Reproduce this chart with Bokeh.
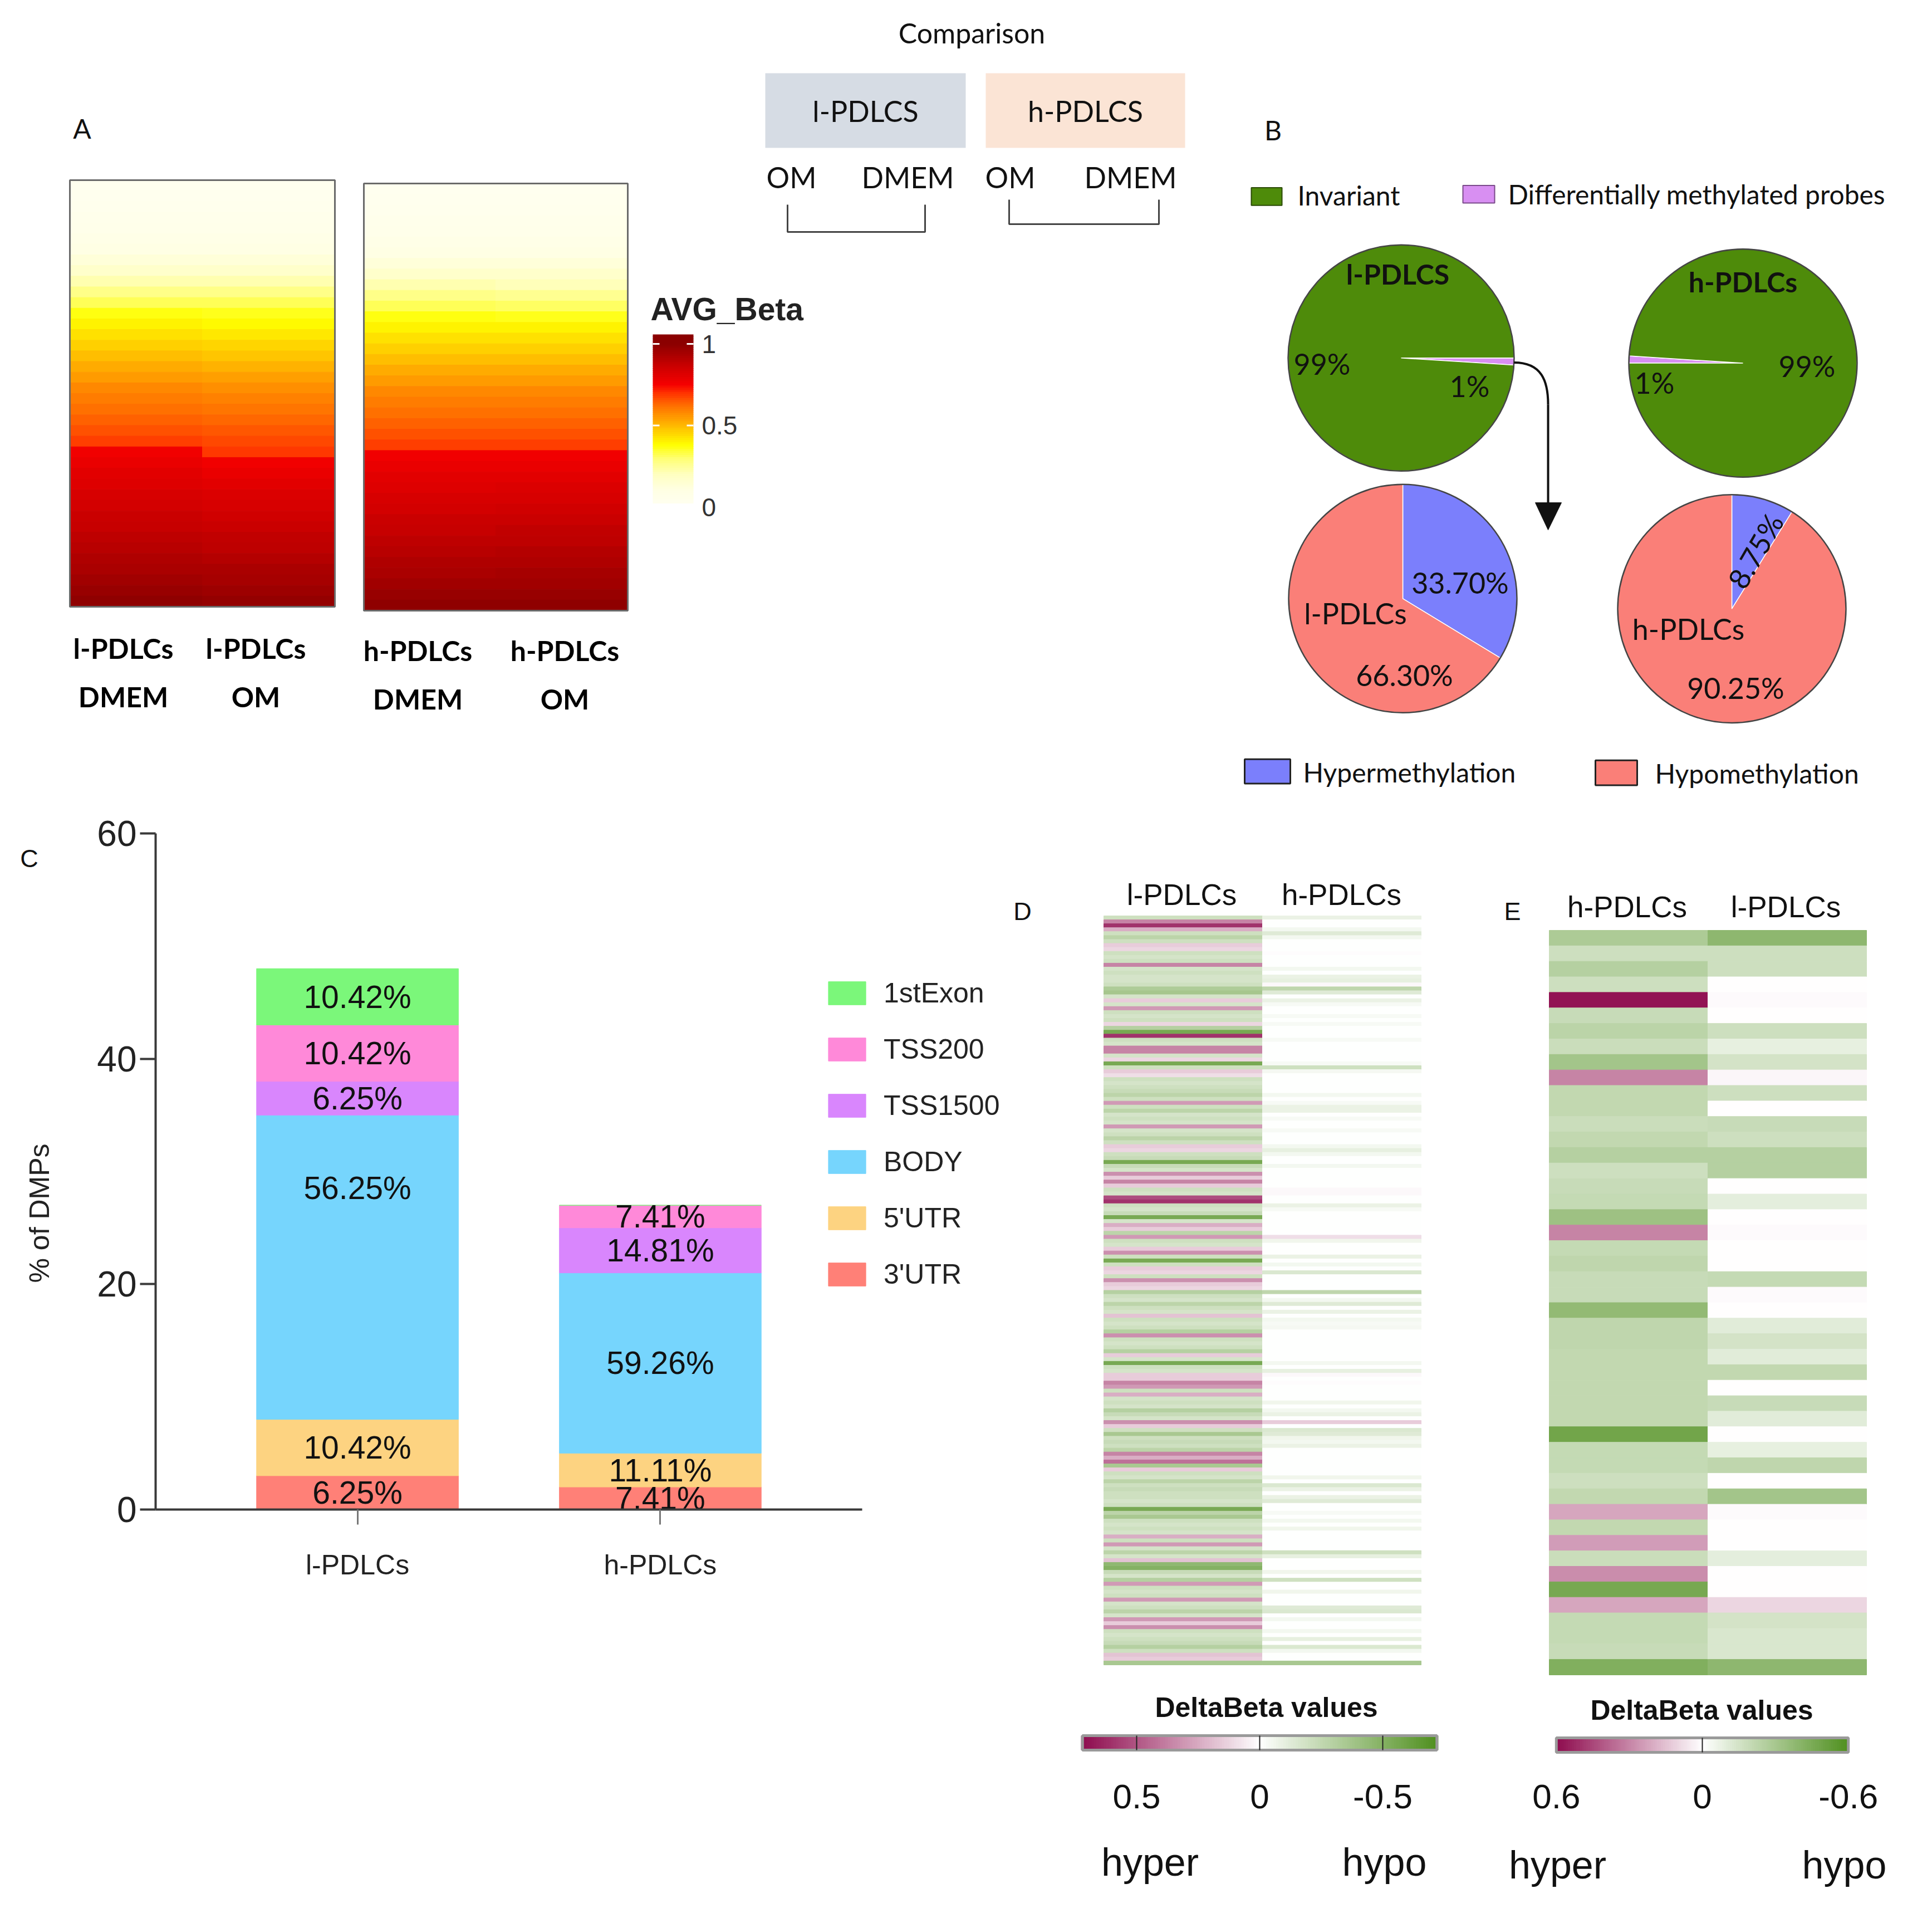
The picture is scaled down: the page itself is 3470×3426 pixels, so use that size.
import numpy as np
from bokeh.plotting import figure
from bokeh.models import Range1d, Label, LinearColorMapper, FixedTicker, Legend, LegendItem, ColumnDataSource
from bokeh.layouts import column, row
from bokeh.embed import file_html
from bokeh.resources import INLINE
from bokeh.core.properties import value

# ------------------------------------------------------------------ data
# Panel A: sorted average beta values per sample (top -> bottom)
A_samples = [("l-PDLCs", "DMEM"), ("l-PDLCs", "OM"), ("h-PDLCs", "DMEM"), ("h-PDLCs", "OM")]
A_l_DMEM = [0.02,0.03,0.04,0.05,0.06,0.08,0.10,0.13,0.17,0.22,0.27,0.32,0.37,0.40,0.43,0.46,0.49,0.52,0.55,0.58,
            0.60,0.62,0.64,0.66,0.68,0.76,0.78,0.80,0.81,0.83,0.84,0.86,0.87,0.89,0.90,0.92,0.93,0.95,0.97,0.99]
A_l_OM = [0.02,0.03,0.04,0.05,0.06,0.08,0.10,0.13,0.17,0.22,0.27,0.32,0.36,0.39,0.42,0.45,0.48,0.51,0.54,0.57,
          0.59,0.61,0.63,0.65,0.67,0.69,0.76,0.78,0.80,0.82,0.83,0.85,0.86,0.88,0.89,0.91,0.93,0.94,0.96,0.98]
A_h_DMEM = [0.02,0.03,0.04,0.05,0.06,0.08,0.10,0.13,0.17,0.22,0.27,0.32,0.37,0.40,0.43,0.46,0.49,0.52,0.55,0.58,
            0.60,0.62,0.64,0.66,0.68,0.76,0.78,0.80,0.81,0.83,0.84,0.86,0.87,0.89,0.90,0.92,0.93,0.95,0.97,0.99]
A_h_OM = [0.02,0.03,0.04,0.05,0.06,0.08,0.10,0.13,0.17,0.21,0.26,0.31,0.36,0.40,0.43,0.46,0.49,0.52,0.55,0.58,
          0.60,0.62,0.64,0.66,0.68,0.76,0.78,0.80,0.82,0.83,0.85,0.86,0.88,0.89,0.91,0.92,0.94,0.95,0.97,0.99]
A_beta_ticks = [0, 0.5, 1]

# Panel B: pies
probe_classes = ["Differentially methylated probes", "Invariant"]
probe_pct_l = [1, 99]
probe_pct_h = [1, 99]
dmp_classes = ["Hypermethylation", "Hypomethylation"]
dmp_pct_l = [33.70, 66.30]
dmp_pct_h = [8.75, 90.25]

# Panel C: DMP counts per genomic region
groups = ["l-PDLCs", "h-PDLCs"]
regions = ["3'UTR", "5'UTR", "BODY", "TSS1500", "TSS200", "1stExon"]
dmp_counts_l = [3, 5, 27, 3, 5, 5]
dmp_counts_h = [2, 3, 16, 4, 2, 0]
C_yticks = [0, 20, 40, 60]

# Panel D: DeltaBeta of l-PDLCs DMPs (rows top -> bottom)
D_l = [
    -0.2, 0.36, 0.6, 0.24, -0.2, -0.27, -0.2, 0.15, 0.12, -0.2,
    -0.17, -0.2, 0.36, -0.17, -0.2, -0.17, -0.17, -0.2, -0.33, -0.36,
    -0.17, 0.15, -0.17, 0.3, -0.2, -0.17, -0.2, 0.12, -0.3, -0.55,
    0.6, -0.2, -0.17, 0.36, 0.36, -0.17, 0.12, -0.55, -0.2, 0.15,
    0.1, -0.2, -0.17, -0.2, -0.23, -0.27, -0.2, 0.3, -0.2,
    -0.27, -0.17, -0.2, -0.17, 0.3, -0.17, -0.2, -0.27, -0.2, 0.15,
    0.12, -0.2, -0.23, -0.55, -0.23, -0.17, 0.33, 0.15, 0.36, 0.15,
    -0.2, -0.17, 0.52, 0.6, -0.2, -0.17, -0.23, -0.55, -0.17, 0.24,
    0.15, -0.27, 0.3, -0.2, -0.17, 0.15, 0.33, -0.2, -0.55, -0.2,
    0.15, 0.12, -0.2, 0.33, 0.15, 0.12, -0.3, -0.2, -0.17,
    -0.27, -0.2, -0.17, 0.18, -0.2, -0.17, -0.2, -0.3, 0.33, -0.2,
    -0.17, -0.2, -0.3, 0.15, -0.17, -0.55, -0.2, -0.17, 0.15, 0.15,
    0.36, 0.3, -0.2, 0.24, -0.17, -0.2, -0.17, -0.3, -0.23, -0.17,
    0.33, 0.15, -0.2, -0.35, -0.2, -0.23, -0.2, -0.27, 0.36, 0.24,
    0.42, -0.35, 0.15, -0.2, -0.17, -0.27, -0.2, -0.23, -0.2,
    -0.2, -0.17, -0.2, -0.55, -0.27, -0.35, -0.2, -0.17, -0.2, -0.17,
    0.24, -0.2, 0.3, -0.17, -0.27, -0.17, 0.18, -0.45, -0.5, -0.23,
    -0.17, -0.3, 0.3, -0.2, -0.17, -0.2, 0.3, -0.17, -0.2, -0.27,
    -0.17, 0.3, 0.15, 0.33, -0.2, -0.17, -0.2, -0.23, -0.3, -0.2,
    0.18, 0.15, -0.35,
]
D_h = [
    -0.08, 0, 0, -0.05, -0.13, -0.05, 0, 0, 0, 0.01,
    0, 0, 0, -0.05, 0, -0.08, -0.1, 0.02, -0.26, -0.13,
    0, -0.08, -0.03, 0, 0, -0.03, 0, -0.03, 0, 0,
    0, -0.03, 0, 0, 0, 0, 0, -0.03, -0.2, -0.04,
    0, 0, 0, 0, 0, -0.05, 0, -0.03, -0.08,
    -0.08, 0, -0.03, 0, 0, -0.03, 0, 0, 0, -0.05,
    -0.1, -0.05, 0, 0, -0.05, 0, 0, 0, 0, 0,
    0.02, 0.02, 0, 0, -0.08, -0.03, 0, 0, 0, 0,
    0, 0, 0.1, -0.06, 0, 0, 0, -0.08, 0, -0.05,
    0, -0.15, 0, 0, 0, 0, -0.26, 0, -0.05,
    -0.13, 0, -0.08, 0, -0.05, -0.03, -0.04, 0, 0, 0,
    0, 0, 0, 0, 0, -0.05, 0, -0.1, 0.02, 0,
    0.01, 0, 0, 0, 0, -0.06, 0, -0.05, -0.08, 0,
    0.15, 0, -0.15, -0.13, -0.06, -0.05, -0.08, 0, 0, 0,
    0, 0, 0, 0, -0.06, 0, -0.15, -0.08, 0,
    -0.08, -0.13, 0, 0, -0.03, 0, -0.05, 0, -0.06, 0,
    0, 0, 0, 0, -0.2, -0.1, 0, 0, 0, -0.06,
    0, -0.2, 0, 0, -0.06, 0, 0, 0, -0.13, -0.15,
    0, -0.05, 0, 0, -0.05, 0, -0.1, 0, -0.15, -0.05,
    0, 0, -0.35,
]
D_ticks = [0.5, 0, -0.5]

# Panel E: DeltaBeta of h-PDLCs DMPs
E_h = [-0.28, -0.17, -0.25, -0.17, 0.58, -0.19, -0.23, -0.18, -0.31, 0.3,
       -0.21, -0.21, -0.18, -0.21, -0.25, -0.17, -0.19, -0.2, -0.33, 0.3,
       -0.2, -0.22, -0.19, -0.19, -0.37, -0.22, -0.22, -0.21, -0.21, -0.21,
       -0.21, -0.21, -0.48, -0.2, -0.2, -0.17, -0.21, 0.22, -0.21, 0.24,
       -0.18, 0.28, -0.46, 0.22, -0.2, -0.2, -0.19, -0.43]
E_l = [-0.38, -0.17, -0.17, 0, 0.01, 0, -0.17, -0.08, -0.15, 0.02,
       -0.17, 0, -0.19, -0.17, -0.25, -0.25, 0, -0.09, 0, 0.01,
       0, 0, -0.2, 0.01, 0, -0.1, -0.15, -0.1, -0.21, 0,
       -0.19, -0.1, 0, -0.08, -0.22, 0, -0.31, 0.01, 0, 0,
       -0.09, 0, 0, 0.1, -0.15, -0.13, -0.13, -0.38]
E_ticks = [0.6, 0, -0.6]


# ------------------------------------------------------------------ helpers
def ramp(anchors, n=256):
    pos = [a[0] for a in anchors]
    cols = [tuple(int(a[1][i:i + 2], 16) for i in (1, 3, 5)) for a in anchors]
    out = []
    for t in np.linspace(0, 1, n):
        rgb = [int(round(np.interp(t, pos, [c[k] for c in cols]))) for k in range(3)]
        out.append("#%02x%02x%02x" % tuple(rgb))
    return out


beta_pal = ramp([(0, "#FFFFFF"), (0.015, "#FFFFF0"), (0.1, "#FFFFE4"), (0.2, "#FFFFC0"), (0.3, "#FFFF70"),
                 (0.38, "#FFFF00"), (0.5, "#FFB800"), (0.62, "#FF7000"), (0.7, "#FF3000"), (0.75, "#F50000"),
                 (0.85, "#D00000"), (1.0, "#8B0000")])
delta_pal = ramp([(0, "#4F8F1E"), (0.5, "#FFFFFF"), (1, "#8E0B4E")])


def lab(p, x, y, s, size, font="Lato", bold=False, align="center", baseline="middle", angle=0, color="#111111"):
    p.add_layout(Label(x=x, y=y, text=s, text_font=font, text_font_size=f"{size}px",
                       text_font_style="bold" if bold else "normal", text_align=align,
                       text_baseline=baseline, angle=angle, angle_units="deg", text_color=color))


def no_align(p):
    if "frame_align" in p.properties():
        p.frame_align = False
    return p


def blank(width, height, x0, x1, y0, y1):
    p = figure(width=width, height=height, x_range=Range1d(x0, x1), y_range=Range1d(-y1, -y0),
               x_axis_location=None, y_axis_location=None, min_border=0,
               output_backend="svg", toolbar_location=None)
    p.grid.visible = False
    p.outline_line_color = None
    return no_align(p)


TOP_H = 1445          # height of the upper band (panels A, comparison, B)
SPLIT = 8 + TOP_H     # reference y where the lower band starts
LOW_H = 3410 - TOP_H

# ------------------------------------------------------------------ top figure (A + comparison + B)
top = blank(3454, TOP_H, 8, 3462, 8, SPLIT)

# Panel A heatmaps
beta_map = LinearColorMapper(palette=beta_pal, low=0, high=1)
A_vals = [A_l_DMEM, A_l_OM, A_h_DMEM, A_h_OM]
A_x = [(133, 371), (371, 609), (661, 898), (898, 1135)]
A_y = [(331, 1097), (331, 1097), (337, 1104), (337, 1104)]
hx, hy, hw, hh, hv = [], [], [], [], []
for vals, (x0, x1), (y0, y1) in zip(A_vals, A_x, A_y):
    h = (y1 - y0) / len(vals)
    for i, v in enumerate(vals):
        hx.append((x0 + x1) / 2); hy.append(-(y0 + (i + 0.5) * h)); hw.append(x1 - x0); hh.append(h); hv.append(v)
top.rect(x="x", y="y", width="w", height="h", source=ColumnDataSource(dict(x=hx, y=hy, w=hw, h=hh, v=hv)),
         fill_color={"field": "v", "transform": beta_map}, line_color={"field": "v", "transform": beta_map},
         line_width=1)
for (x0, _), (_, x1), (y0, y1) in [(A_x[0], A_x[1], A_y[0]), (A_x[2], A_x[3], A_y[2])]:
    top.rect(x=(x0 + x1) / 2, y=-(y0 + y1) / 2, width=x1 - x0, height=y1 - y0,
             fill_color=None, line_color="#6A6A6A", line_width=3)
A_lab_x = [229, 467, 758, 1022]
A_lab_y = [1171, 1171, 1175, 1175]
for (g, m), x, y in zip(A_samples, A_lab_x, A_lab_y):
    lab(top, x, -y, g, 50, bold=True, color="#000000")
    lab(top, x, -(y + 87), m, 50, bold=True, color="#000000")
lab(top, 155, -238, "A", 48)

# AVG_Beta colour bar
cb_v = np.linspace(0.03, 1.05, 80)
cb_h = 293 * (cb_v[1] - cb_v[0])
cb0 = 918
top.rect(x=1216.5, y=[-(cb0 - v * 293) for v in cb_v], width=73, height=cb_h + 0.8,
         fill_color=[beta_pal[min(255, int(v * 255))] for v in cb_v], line_color=None)
for t in A_beta_ticks:
    yy = -(cb0 - t * 293)
    if t > 0:
        top.segment(x0=[1180, 1241], y0=[yy, yy], x1=[1192, 1253], y1=[yy, yy], line_color="white", line_width=3)
    lab(top, 1268, yy, f"{t:g}", 46, font="Liberation Sans", align="left", color="#333333")
lab(top, 1176, -562, "AVG_Beta", 57, font="Liberation Sans", bold=True, align="left", color="#222222")

# Comparison schematic
lab(top, 1753, -66, "Comparison", 50)
top.quad(left=[1382, 1778], right=[1742, 2136], top=[-139, -139], bottom=[-273, -273],
         fill_color=["#D6DCE4", "#FBE4D5"], line_color=None)
lab(top, 1562, -206, "l-PDLCS", 52)
lab(top, 1957, -206, "h-PDLCS", 52)
for x, s in [(1429, "OM"), (1638, "DMEM"), (1822, "OM"), (2038, "DMEM")]:
    lab(top, x, -325, s, 52)
top.line(x=[1422, 1422, 1669, 1669], y=[-375, -424, -424, -375], line_color="#444444", line_width=3)
top.line(x=[1820, 1820, 2089, 2089], y=[-366, -410, -410, -366], line_color="#444444", line_width=3)


# Panel B  (vertical positions measured on the reference)
def by(y):
    return -(y + 0.019 * (y - 150) + 3)


lab(top, 2294, by(236), "B", 48)
top.quad(left=[2255, 2635], right=[2310, 2692], top=[by(338), by(334)], bottom=[by(369), by(365)],
         fill_color=["#4E8B0A", "#D88FF2"], line_color=["#2A4A05", "#7A4A8A"], line_width=2)
lab(top, 2338, by(351), "Invariant", 48, align="left")
lab(top, 2716, by(349), "Differentially methylated probes", 48, align="left")


def pie(p, cx, cy, r, vals, colors, a0):
    tot = float(sum(vals))
    ang = np.deg2rad(a0)
    for v, c in zip(vals, colors):
        span = 2 * np.pi * v / tot
        p.wedge(x=cx, y=by(cy), radius=r, start_angle=ang - span, end_angle=ang,
                fill_color=c, line_color="white", line_width=1.5)
        ang -= span
    p.circle(x=cx, y=by(cy), radius=r, fill_color=None, line_color="#444444", line_width=2.5)


pie(top, 2524, 638, 203, probe_pct_l, ["#D88FF2", "#4E8B0A"], 0)
pie(top, 3138, 647, 205, probe_pct_h, ["#D88FF2", "#4E8B0A"], 180)
pie(top, 2527, 1062, 205, dmp_pct_l, ["#7B7FFC", "#FA7F78"], 90)
pie(top, 3118, 1080, 205, dmp_pct_h, ["#7B7FFC", "#FA7F78"], 90)

lab(top, 2518, by(490), "l-PDLCS", 50, bold=True)
lab(top, 2382, by(648), f"{probe_pct_l[1]:g}%", 52)
lab(top, 2647, by(687), f"{probe_pct_l[0]:g}%", 52)
lab(top, 3138, by(504), "h-PDLCs", 50, bold=True)
lab(top, 2979, by(681), f"{probe_pct_h[0]:g}%", 52)
lab(top, 3253, by(652), f"{probe_pct_h[1]:g}%", 52)
lab(top, 2630, by(1034), f"{dmp_pct_l[0]:.2f}%", 52)
lab(top, 2442, by(1088), "l-PDLCs", 52)
lab(top, 2530, by(1197), f"{dmp_pct_l[1]:.2f}%", 52)
lab(top, 3160, by(978), f"{dmp_pct_h[0]:.2f}%", 52, angle=60)
lab(top, 3040, by(1115), "h-PDLCs", 52)
lab(top, 3125, by(1219), f"{dmp_pct_h[1]:.2f}%", 52)

# arrow
top.bezier(x0=2727, y0=by(646), x1=2788, y1=by(720), cx0=2776, cy0=by(646), cx1=2788, cy1=by(678),
           line_color="#111111", line_width=4)
top.segment(x0=2788, y0=by(720), x1=2788, y1=by(896), line_color="#111111", line_width=4)
top.patch(x=[2765, 2812, 2788], y=[by(893), by(893), by(941)], color="#111111")

top.quad(left=[2243, 2873], right=[2325, 2948], top=[by(1345), by(1347)], bottom=[by(1388), by(1391)],
         fill_color=["#7B7FFC", "#FA7F78"], line_color="#222222", line_width=3)
lab(top, 2348, by(1368), "Hypermethylation", 48, align="left")
lab(top, 2980, by(1370), "Hypomethylation", 48, align="left")

# ------------------------------------------------------------------ Panel C (bar chart)
c_left = blank(102, LOW_H, 8, 110, SPLIT, 3418)
c_left.text(x=[60], y=[-1549], text=["C"], text_font=value("Liberation Sans"), text_font_size="45px",
            text_align="center", text_baseline="middle", text_color="#111111")
c_left.text(x=[78], y=[-2186], text=["% of DMPs"], angle=90, angle_units="deg",
            text_font=value("Liberation Sans"), text_font_size="50px",
            text_align="center", text_baseline="middle", text_color="#222222")

C_xmax = 3.5 * 1533 / 1269
figC = figure(width=1710, height=LOW_H, x_range=Range1d(0, C_xmax), y_range=Range1d(0, 60),
              min_border_left=177, min_border_right=0, min_border_top=1504 - SPLIT, min_border_bottom=700,
              output_backend="svg", toolbar_location=None)
no_align(figC)
figC.grid.visible = False
figC.outline_line_color = None
bar_colors = ["#FF8077", "#FDD381", "#76D5FD", "#D986FD", "#FF89D9", "#7BF77A"]
group_x = [1.0, 2.5]
srcC = ColumnDataSource(dict(x=group_x, **{r: [a, b] for r, a, b in zip(regions, dmp_counts_l, dmp_counts_h)}))
rs = figC.vbar_stack(regions, x="x", width=1.0, color=bar_colors, source=srcC)

tx, ty, tt = [], [], []
label_frac = {("l-PDLCs", "BODY"): 0.76}
for g, gx, counts in zip(groups, group_x, [dmp_counts_l, dmp_counts_h]):
    tot = sum(counts)
    bottom = 0
    for reg, c in zip(regions, counts):
        if c > 0:
            tx.append(gx)
            ty.append(bottom + label_frac.get((g, reg), 0.5) * c)
            tt.append(f"{100 * c / tot:.2f}%")
        bottom += c
figC.text(x=tx, y=ty, text=tt, text_font=value("Liberation Sans"), text_font_size="57px",
          text_align="center", text_baseline="middle", text_color="#111111")

for ax in (figC.xaxis, figC.yaxis):
    ax.axis_line_width = 4
    ax.axis_line_color = "#3A3A3A"
    ax.major_tick_line_width = 4
    ax.major_tick_line_color = "#3A3A3A"
    ax.major_tick_in = 0
    ax.minor_tick_in = 0
    ax.minor_tick_out = 0
    ax.major_label_text_font = "Liberation Sans"
    ax.major_label_text_color = "#222222"
figC.yaxis.ticker = FixedTicker(ticks=C_yticks)
figC.yaxis.major_tick_out = 28
figC.yaxis.major_label_text_font_size = "64px"
figC.yaxis.major_label_standoff = 6
figC.xaxis.ticker = FixedTicker(ticks=group_x)
figC.xaxis.bounds = (0, 3.5)
figC.xaxis.major_label_overrides = {1.0: groups[0], 2.5: groups[1]}
figC.xaxis.major_tick_out = 27
figC.xaxis.major_tick_line_width = 3
figC.xaxis.major_tick_line_color = "#777777"
figC.xaxis.major_label_text_font_size = "50px"
figC.xaxis.major_label_standoff = 44

items = [LegendItem(label=reg, renderers=[r]) for reg, r in zip(regions[::-1], rs[::-1])]
leg = Legend(items=items, location=(1200, 393), glyph_width=84, glyph_height=52, label_height=52,
             label_standoff=24, spacing=43, padding=0, margin=0, border_line_color=None,
             background_fill_alpha=0, label_text_font="Liberation Sans", label_text_font_size="50px",
             label_text_color="#222222")
figC.add_layout(leg)

# ------------------------------------------------------------------ Panels D and E
de = blank(1642, LOW_H, 1820, 3462, SPLIT, 3418)


def strip_heat(p, cols, xs, y0, y1, mapper):
    n = min(len(c) for c in cols)
    h = (y1 - y0) / n
    X, Y, W, V = [], [], [], []
    for vals, (xa, xb) in zip(cols, xs):
        for i in range(n):
            X.append((xa + xb) / 2); Y.append(-(y0 + (i + 0.5) * h)); W.append(xb - xa); V.append(vals[i])
    p.rect(x="x", y="y", width="w", height=h, source=ColumnDataSource(dict(x=X, y=Y, w=W, v=V)),
           fill_color={"field": "v", "transform": mapper}, line_color={"field": "v", "transform": mapper},
           line_width=1)


def delta_bar(p, cx, cy, per, rng, ticks, tick_lines):
    v = np.linspace(-rng, rng, 145)
    w = per * (v[1] - v[0])
    p.rect(x=[cx - t * per for t in v], y=-cy, width=w + 0.8, height=26,
           fill_color=[delta_pal[int(round((t + rng) / (2 * rng) * 255))] for t in v], line_color=None)
    p.rect(x=cx, y=-cy, width=2 * rng * per, height=26, fill_color=None, line_color="#9A9A9A", line_width=5)
    for t in tick_lines:
        p.segment(x0=cx - t * per, y0=-cy - 13, x1=cx - t * per, y1=-cy + 13, line_color="#222222", line_width=2)
    for t in ticks:
        lab(p, cx - t * per, -3233, f"{t:g}", 62, font="Liberation Sans", color="#111111")


D_map = LinearColorMapper(palette=delta_pal, low=-0.72, high=0.72)
E_map = LinearColorMapper(palette=delta_pal, low=-0.6, high=0.6)
strip_heat(de, [D_l, D_h], [(1990, 2275), (2275, 2560)], 1652, 2997, D_map)
strip_heat(de, [E_h, E_l], [(2790, 3075), (3075, 3360)], 1678, 3015, E_map)

lab(de, 1844, -1644, "D", 45, font="Liberation Sans")
lab(de, 2724, -1644, "E", 45, font="Liberation Sans")
lab(de, 2130, -1614, "l-PDLCs", 53, font="Liberation Sans")
lab(de, 2417, -1614, "h-PDLCs", 53, font="Liberation Sans")
lab(de, 2930, -1636, "h-PDLCs", 53, font="Liberation Sans")
lab(de, 3215, -1636, "l-PDLCs", 53, font="Liberation Sans")

delta_bar(de, 2270, 3137, 442, 0.72, D_ticks, D_ticks)
delta_bar(de, 3065, 3141, 437, 0.6, E_ticks, [0])
lab(de, 2282, -3073, "DeltaBeta values", 50, font="Liberation Sans", bold=True)
lab(de, 3064, -3078, "DeltaBeta values", 50, font="Liberation Sans", bold=True)
lab(de, 2073, -3351, "hyper", 70, font="Liberation Sans")
lab(de, 2494, -3351, "hypo", 70, font="Liberation Sans")
lab(de, 2805, -3356, "hyper", 70, font="Liberation Sans")
lab(de, 3320, -3356, "hypo", 70, font="Liberation Sans")

layout = column(top, row(column(c_left), column(figC), column(de)))
open("out.html", "w").write(file_html(layout, INLINE))
